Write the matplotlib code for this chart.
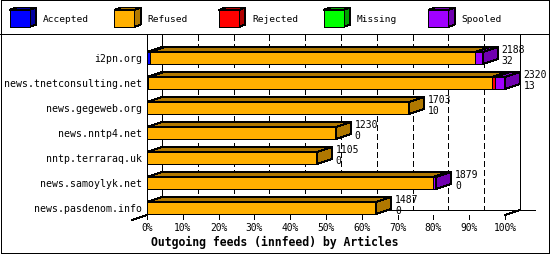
import matplotlib.pyplot as plt
from matplotlib.patches import Polygon, Rectangle

plt.rcParams['font.family'] = 'DejaVu Sans Mono'
plt.rcParams['lines.scale_dashes'] = False
plt.rcParams['lines.antialiased'] = False
plt.rcParams['patch.antialiased'] = False

hosts = ["i2pn.org", "news.tnetconsulting.net", "news.gegeweb.org",
         "news.nntp4.net", "nntp.terraraq.uk", "news.samoylyk.net",
         "news.pasdenom.info"]
articles = [2188, 2320, 1703, 1230, 1105, 1879, 1487]
second_line = [32, 13, 10, 0, 0, 0, 0]

categories = ["Accepted", "Refused", "Rejected", "Missing", "Spooled"]
# percent of articles, per host
accepted = [0.9, 0.4, 0, 0, 0, 0, 0]
refused = [90.7, 96.0, 73.2, 52.7, 47.4, 79.8, 64.0]
rejected = [0, 0.7, 0, 0, 0, 0, 0]
missing = [0, 0, 0, 0, 0, 0, 0]
spooled = [2.2, 2.8, 0, 0, 0, 1.0, 0]
series = [accepted, refused, rejected, missing, spooled]

ticks = list(range(0, 101, 10))

front_col = ['#0000ff', '#ffb000', '#ff0000', '#00ff00', '#a000ff']
dark_col = ['#0000a0', '#b07800', '#b00000', '#00a000', '#7000b0']

W, H = 550, 255
PX = 3.58      # pixels per percent
ROW = 25.0     # pixels per row
lw = 0.72      # one pixel

fig = plt.figure(figsize=(W / 100, H / 100), dpi=100)

# frame + legend strip (pixel coords)
bg = fig.add_axes([0, 0, 1, 1])
bg.set_xlim(0, W)
bg.set_ylim(H, 0)
bg.axis('off')
bg.add_patch(Rectangle((0.5, 0.5), W - 1.2, H - 1.2, fill=False, ec='black',
                       lw=lw, clip_on=False))
bg.plot([0, W], [35, 35], color='black', lw=lw)

for k, (name, fc, dc) in enumerate(zip(categories, front_col, dark_col)):
    x0 = 9.5 + 104.7 * k
    y0, w, h, ddx, ddy = 11, 20, 17, 6.5, -2.5
    bg.add_patch(Polygon([(x0, y0), (x0 + w, y0), (x0 + w + ddx, y0 + ddy),
                          (x0 + ddx, y0 + ddy)], fc=dc, ec='black', lw=lw))
    bg.add_patch(Polygon([(x0 + w, y0), (x0 + w + ddx, y0 + ddy),
                          (x0 + w + ddx, y0 + h + ddy), (x0 + w, y0 + h)],
                         fc=dc, ec='black', lw=lw))
    bg.add_patch(Rectangle((x0, y0), w, h, fc=fc, ec='black', lw=lw))
    bg.text(x0 + 33, 20, name, fontsize=6.8, ha='left', va='center')

# main chart
top_px, bot_px, c0 = 36, 224, 59
ax = fig.add_axes([147 / W, 1 - bot_px / H, (536 - 147) / W, (bot_px - top_px) / H])
ax.set_xlim(0, (536 - 147) / PX)
ax.set_ylim((bot_px - c0) / ROW, (top_px - c0) / ROW)
ax.axis('off')

dx = 15 / PX
dy = -5 / ROW
bh = 12 / ROW
ytop = (top_px - c0) / ROW
floor_back = (211 - c0) / ROW
floor_front = (216 - c0) / ROW

for t in ticks[1:]:
    ax.plot([t + dx, t + dx], [ytop, floor_back], color='black', lw=lw,
            dashes=(3.6, 2.2), zorder=1)
ax.plot([dx, dx], [ytop, floor_back], color='black', lw=lw, zorder=1)
ax.plot([0, 0], [ytop, floor_front], color='black', lw=lw, zorder=5)
ax.plot([100 + dx, 100 + dx], [ytop, floor_back], color='black', lw=lw, zorder=1)
ax.plot([0, (536 - 147) / PX], [floor_back, floor_back], color='black', lw=lw, zorder=1)
ax.plot([0, -dx], [floor_front, floor_front - dy], color='black', lw=lw, clip_on=False)
ax.plot([100, 100 + dx], [floor_front, floor_back], color='black', lw=lw)
for t in ticks:
    ax.plot([t, t], [floor_front, floor_front - dy * 0.8], color='black', lw=lw,
            clip_on=False)
    ax.text(t, (228 - c0) / ROW, f"{t}%", fontsize=6.9, ha='center', va='center')

for i, host in enumerate(hosts):
    left = 0
    last = None
    for c, vals in enumerate(series):
        w = vals[i]
        if w <= 0:
            continue
        ax.barh(i, w, left=left, height=bh, color=front_col[c], edgecolor='black',
                linewidth=lw, zorder=3)
        yt = i - bh / 2
        ax.add_patch(Polygon([(left, yt), (left + w, yt), (left + w + dx, yt + dy),
                              (left + dx, yt + dy)], fc=dark_col[c], ec='black',
                             lw=lw, zorder=3))
        left += w
        last = c
    yt, yb = i - bh / 2, i + bh / 2
    ax.add_patch(Polygon([(left, yt), (left + dx, yt + dy), (left + dx, yb + dy),
                          (left, yb)], fc=dark_col[last], ec='black', lw=lw, zorder=3))
    ax.text(left + dx + 4 / PX, i - 9 / ROW, str(articles[i]), fontsize=7,
            ha='left', va='center', zorder=6)
    ax.text(left + dx + 4 / PX, i + 2 / ROW, str(second_line[i]), fontsize=7,
            ha='left', va='center', zorder=6)
    ax.text(-5 / PX, i, host, fontsize=7.1, ha='right', va='center')

fig.text(0.5, 1 - 242 / H, "Outgoing feeds (innfeed) by Articles", fontsize=8.3,
         fontweight='bold', ha='center', va='center')

fig.savefig('out.png', dpi=100)
